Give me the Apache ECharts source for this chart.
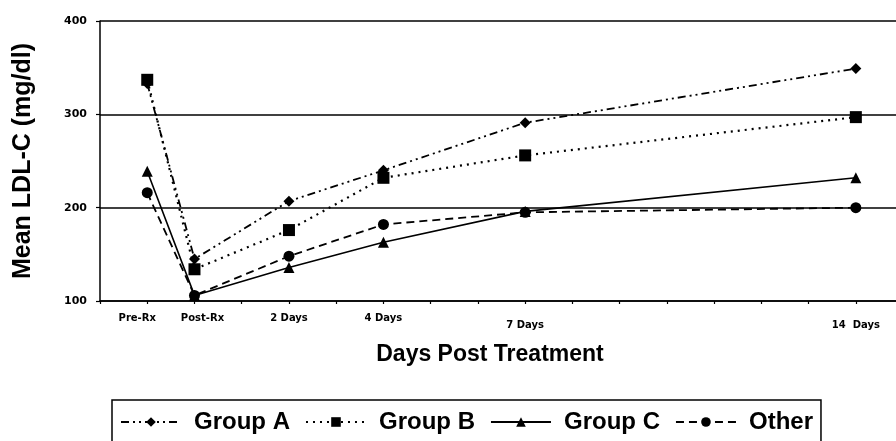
<!DOCTYPE html>
<html>
<head>
<meta charset="utf-8">
<script src="https://cdn.jsdelivr.net/npm/echarts@6/dist/echarts.min.js"></script>
<style>
  html, body { margin: 0; padding: 0; background: #fff; }
  #chart { width: 896px; height: 441px; }
</style>
</head>
<body>
<div id="chart"></div>
<script>
// days relative to treatment (Pre-Rx drawn one day before Post-Rx)
var xDays = [-1, 0, 2, 4, 7, 14];
var xLabels = ['Pre-Rx', 'Post-Rx', '2 Days', '4 Days', '7 Days', '14  Days'];
var xLabelStyle = ['pre', 'post', 'n', 'n', 'low', 'low'];
var groupA = [333, 145, 207, 240, 291, 349];
var groupB = [337, 134, 176, 232, 256, 297];
var groupC = [239, 106, 136, 163, 196, 232];
var other = [216, 106, 148, 182, 195, 200];
var names = ['Group A', 'Group B', 'Group C', 'Other'];

(function () {
  var chart = echarts.init(document.getElementById('chart'));

  function pairs(vals) {
    var out = [];
    for (var i = 0; i < xDays.length; i++) {
      out.push([xDays[i], vals[i]]);
    }
    return out;
  }

  var tickFont = { fontFamily: 'DejaVu Sans', fontWeight: 'bold', fontSize: 10, color: '#000' };

  function lineSeries(name, vals, symbol, size, dash, width) {
    return {
      name: name,
      type: 'line',
      data: pairs(vals),
      symbol: symbol,
      symbolSize: size,
      showSymbol: true,
      itemStyle: { color: '#000' },
      lineStyle: { color: '#000', width: width, type: dash },
      emphasis: { disabled: true }
    };
  }

  var option = {
    animation: false,
    backgroundColor: '#fff',
    grid: { left: 100, right: 0, top: 21, bottom: 140 },
    xAxis: {
      type: 'value',
      min: -2,
      max: 14.85,
      interval: 1,
      name: 'Days Post Treatment',
      nameLocation: 'middle',
      nameGap: 42,
      nameTextStyle: { fontFamily: 'Liberation Sans', fontWeight: 'bold', fontSize: 23, color: '#000', padding: [0, 16, 0, 0] },
      axisLine: { onZero: false, lineStyle: { color: '#000', width: 1.5 } },
      axisTick: { show: true, length: 3, lineStyle: { color: '#000', width: 1.2 } },
      splitLine: { show: false },
      axisLabel: {
        margin: 12,
        showMinLabel: true,
        showMaxLabel: false,
        formatter: function (v) {
          var i = xDays.indexOf(v);
          if (i < 0) return '';
          return '{' + xLabelStyle[i] + '|' + xLabels[i] + '}';
        },
        rich: {
          n: tickFont,
          pre: Object.assign({ padding: [0, 20, 0, 0] }, tickFont),
          post: Object.assign({ padding: [0, 0, 0, 16] }, tickFont),
          low: Object.assign({ padding: [7, 0, 0, 0] }, tickFont)
        }
      }
    },
    yAxis: {
      type: 'value',
      min: 100,
      max: 400,
      interval: 100,
      name: 'Mean LDL-C (mg/dl)',
      nameLocation: 'middle',
      nameRotate: 90,
      nameGap: 64,
      nameTextStyle: { fontFamily: 'Liberation Sans', fontWeight: 'bold', fontSize: 25, color: '#000' },
      axisLine: { show: true, onZero: false, lineStyle: { color: '#000', width: 1.5 } },
      axisTick: { show: true, length: 4, lineStyle: { color: '#000', width: 1.2 } },
      splitLine: { show: true, lineStyle: { color: '#000', width: 1.5 } },
      axisLabel: { margin: 13, fontFamily: 'DejaVu Sans', fontWeight: 'bold', fontSize: 11, color: '#000' }
    },
    legend: {
      data: names,
      left: 112,
      top: 400,
      orient: 'horizontal',
      itemWidth: 60,
      itemHeight: 12,
      itemGap: 15,
      padding: [10, 8, 20, 8],
      borderColor: '#000',
      borderWidth: 1.5,
      textStyle: { fontFamily: 'Liberation Sans', fontWeight: 'bold', fontSize: 24, color: '#000', padding: [0, 0, 0, 8] }
    },
    series: [
      lineSeries('Group A', groupA, 'diamond', 11, [8, 4, 2, 4, 2, 4], 1.8),
      lineSeries('Group B', groupB, 'rect', 12, [2, 5], 2.2),
      lineSeries('Group C', groupC, 'triangle', 11, 'solid', 1.6),
      lineSeries('Other', other, 'circle', 11, [8, 5], 1.8)
    ]
  };

  chart.setOption(option);
  window.addEventListener('resize', function () {
    chart.resize();
  });
})();
</script>
</body>
</html>
